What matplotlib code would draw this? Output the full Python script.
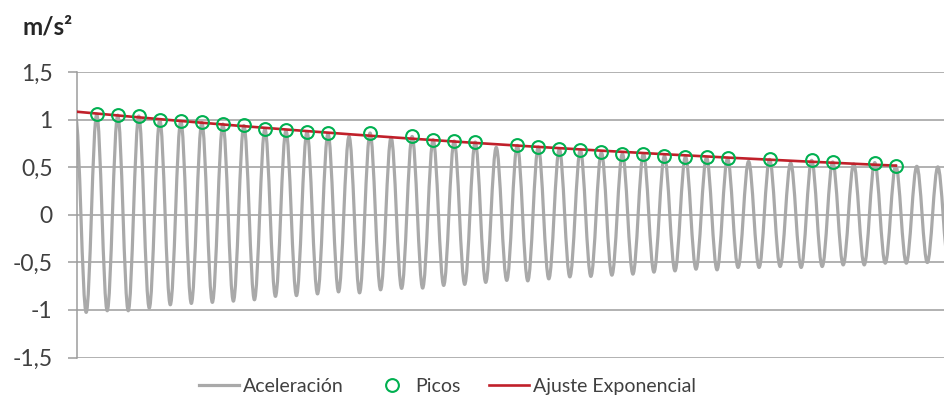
import matplotlib
matplotlib.use('Agg')
import matplotlib.pyplot as plt
import numpy as np
from matplotlib.path import Path
from matplotlib.patches import PathPatch
from matplotlib.lines import Line2D


######## data ########

# time axis in oscillation cycles (no x labels shown on the chart)
t_start = 0.0
t_end = 41.23
period = 1.0
first_peak_t = -0.063   # peak just before the visible start
first_trough_t = 0.437

# peak values (k = -1 .. 40)
peak_vals = [1.02,
             1.058, 1.047, 1.037, 0.998, 0.987, 0.970, 0.953, 0.938, 0.904, 0.886,
             0.872, 0.854, 0.823, 0.859, 0.813, 0.823, 0.788, 0.775, 0.764, 0.708,
             0.729, 0.712, 0.691, 0.681, 0.656, 0.642, 0.642, 0.618, 0.611, 0.603,
             0.593, 0.561, 0.582, 0.545, 0.572, 0.555, 0.534, 0.548, 0.516, 0.509,
             0.503]

# trough values (j = 0 .. 41)
trough_vals = [-1.026, -1.009, -1.009, -0.981, -0.946, -0.932, -0.921, -0.908, -0.894, -0.858,
               -0.850, -0.832, -0.811, -0.821, -0.789, -0.774, -0.771, -0.743, -0.732, -0.711,
               -0.690, -0.695, -0.674, -0.653, -0.648, -0.635, -0.624, -0.603, -0.590, -0.572,
               -0.579, -0.554, -0.554, -0.544, -0.554, -0.544, -0.527, -0.527, -0.509, -0.509,
               -0.502, -0.500]

# which peaks (k index, 0-based from the first visible peak) are marked as "Picos"
picos_k = [0, 1, 2, 3, 4, 5, 6, 7, 8, 9, 10, 11, 13, 15, 16, 17, 18,
           20, 21, 22, 23, 24, 25, 26, 27, 28, 29, 30, 32, 34, 35, 37, 38]

y_ticks = [-1.5, -1, -0.5, 0, 0.5, 1, 1.5]
y_labels = ['-1,5', '-1', '-0,5', '0', '0,5', '1', '1,5']


######## build the signal ########

peak_t = first_peak_t + period * np.arange(len(peak_vals))
trough_t = first_trough_t + period * np.arange(len(trough_vals))

ext_t = np.concatenate([peak_t, trough_t])
ext_v = np.concatenate([peak_vals, trough_vals])
order = np.argsort(ext_t)
ext_t = ext_t[order]
ext_v = ext_v[order]

# smooth path through the extrema (cubic bezier, flat tangents at extrema)
c = 1 - 2 / np.pi
verts = [(ext_t[0], ext_v[0])]
codes = [Path.MOVETO]
for i in range(len(ext_t) - 1):
    h = ext_t[i + 1] - ext_t[i]
    verts += [(ext_t[i] + c * h, ext_v[i]),
              (ext_t[i + 1] - c * h, ext_v[i + 1]),
              (ext_t[i + 1], ext_v[i + 1])]
    codes += [Path.CURVE4] * 3

picos_t = np.array([peak_t[k + 1] for k in picos_k])
picos_v = np.array([peak_vals[k + 1] for k in picos_k])

# exponential fit of the peaks
b, log_a = np.polyfit(picos_t, np.log(picos_v), 1)
fit_t = np.linspace(t_start, picos_t[-1], 200)
fit_v = np.exp(log_a) * np.exp(b * fit_t)


######## plot ########

plt.rcParams['font.family'] = ['Lato', 'DejaVu Sans']
plt.rcParams['font.size'] = 15

gray = '#A9A9A9'
grid_col = '#9C9C9C'
green = '#00B050'
red = '#C0202A'
text_col = '#404040'

fig = plt.figure(figsize=(9.44, 3.99), dpi=100)
ax = fig.add_axes([77 / 944, 1 - 357.5 / 399, 1 - 77 / 944, (357.5 - 72) / 399])

patch = PathPatch(Path(verts, codes), facecolor='none', edgecolor=gray, lw=2.3,
                  capstyle='round', joinstyle='round', zorder=2)
ax.add_patch(patch)
ax.plot(fit_t, fit_v, color=red, lw=1.9, zorder=3)
ax.plot(picos_t, picos_v, 'o', mfc='none', mec=green, ms=9.2, mew=1.5, zorder=4)

ax.set_xlim(t_start, t_end)
ax.set_ylim(-1.5, 1.5)
ax.set_yticks(y_ticks)
ax.set_yticklabels(y_labels, color=text_col, fontsize=16.5)
ax.set_xticks([])
ax.grid(True, axis='y', color=grid_col, lw=1.1, zorder=0)
ax.set_axisbelow(True)
for s in ['top', 'right', 'bottom']:
    ax.spines[s].set_visible(False)
ax.spines['left'].set_color(grid_col)
ax.spines['left'].set_linewidth(1.1)
ax.tick_params(axis='y', length=6.5, width=1.1, color=grid_col, pad=11)

fig.text(22 / 944, 1 - 27 / 399, 'm/s²', ha='left', va='center',
         fontweight='bold', fontsize=17.5, color='#262626')

handles = [Line2D([], [], color=gray, lw=2.3),
           Line2D([], [], ls='none', marker='o', mfc='none', mec=green, ms=9.2, mew=1.5),
           Line2D([], [], color=red, lw=1.9)]
fig.legend(handles, ['Aceleración', 'Picos', 'Ajuste Exponencial'],
           loc='center', bbox_to_anchor=(447.5 / 944, 1 - 386.5 / 399), ncol=3,
           frameon=False, handlelength=2.06, handletextpad=0.2, columnspacing=1.45,
           labelcolor=text_col, fontsize=14, borderpad=0)

fig.savefig('out.png', dpi=100)
